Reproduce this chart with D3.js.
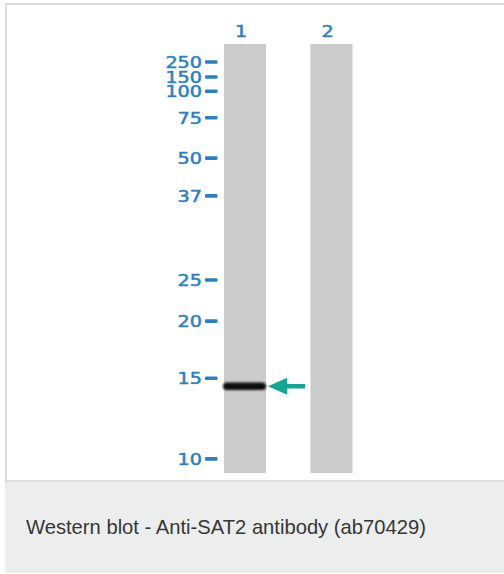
<!DOCTYPE html>
<html>
<head>
<meta charset="utf-8">
<script src="https://cdn.jsdelivr.net/npm/d3@7"></script>
<style>
  html, body { margin: 0; padding: 0; background: #fff; }
  svg { display: block; }
</style>
</head>
<body>
<div id="chart"></div>
<script>
// ---------- Data ----------
const lanes = ["1", "2"];
const markers = [250, 150, 100, 75, 50, 37, 25, 20, 15, 10];          // kDa
const markerRf = [0.042, 0.077, 0.110, 0.172, 0.266, 0.354, 0.550, 0.646, 0.779, 0.967]; // relative migration
const bandLanes = ["1"];
const bandKDa = [14.4];
const caption = "Western blot - Anti-SAT2 antibody (ab70429)";

// ---------- Setup ----------
const width = 504, height = 574;
const blue = "#2d80bc", teal = "#17a593";

const svg = d3.select("#chart").append("svg")
  .attr("width", width).attr("height", height);

const defs = svg.append("defs");
defs.append("filter").attr("id", "soft")
  .attr("x", "-20%").attr("y", "-100%").attr("width", "140%").attr("height", "300%")
  .append("feGaussianBlur").attr("stdDeviation", 0.8);

// panel + caption box
svg.append("rect").attr("x", 6).attr("y", 4).attr("width", width).attr("height", 477)
  .attr("fill", "#fff").attr("stroke", "#dcdcdc").attr("stroke-width", 2);
svg.append("rect").attr("x", 5).attr("y", 482).attr("width", width - 5).attr("height", 91)
  .attr("fill", "#eceeee");
svg.append("text")
  .attr("x", 26).attr("y", 534)
  .attr("font-family", "Liberation Sans, Arial, sans-serif")
  .attr("font-size", 20.2).attr("fill", "#363636")
  .text(caption);

// ---------- Scales ----------
const x = d3.scaleBand().domain(lanes).range([224, 352.5])
  .paddingInner(0.514).paddingOuter(0);
const y = d3.scaleLinear().domain([0, 1]).range([44, 473]);
const rf = d3.scaleLog().domain(markers).range(markerRf);

// ---------- Lanes ----------
svg.append("g").selectAll("rect")
  .data(lanes).join("rect")
  .attr("x", d => x(d)).attr("y", y(0))
  .attr("width", x.bandwidth()).attr("height", y(1) - y(0))
  .attr("fill", "#cbcbcb");

svg.append("g").selectAll("text")
  .data(lanes).join("text")
  .attr("transform", d => `translate(${x(d) + x.bandwidth() / 2 - 4},37) scale(1.2,1)`)
  .attr("text-anchor", "middle")
  .attr("font-family", "DejaVu Sans, sans-serif")
  .attr("font-size", 16).attr("fill", blue)
  .attr("stroke", blue).attr("stroke-width", 0.5)
  .text(d => d);

// ---------- Marker ladder ----------
const ladder = svg.append("g").selectAll("g")
  .data(markers).join("g")
  .attr("transform", d => `translate(0,${y(rf(d))})`);

ladder.append("text")
  .attr("transform", "translate(202,0) scale(1.2,1)")
  .attr("text-anchor", "end").attr("dy", "0.36em")
  .attr("font-family", "DejaVu Sans, sans-serif")
  .attr("font-size", 16).attr("fill", blue)
  .attr("stroke", blue).attr("stroke-width", 0.5)
  .text(d => d);

ladder.append("rect")
  .attr("x", 205).attr("y", -1.8).attr("width", 12.5).attr("height", 3.6)
  .attr("rx", 1).attr("fill", blue);

// ---------- Bands ----------
const bands = bandLanes.map((l, i) => ({ lane: l, kDa: bandKDa[i] }));

svg.append("g").selectAll("rect")
  .data(bands).join("rect")
  .attr("x", d => x(d.lane) - 1).attr("y", d => y(rf(d.kDa)) - 3.8)
  .attr("width", x.bandwidth() + 1).attr("height", 7.6)
  .attr("rx", 3.8)
  .attr("fill", "#0c0c0c").attr("filter", "url(#soft)");

// arrow pointing at band
svg.append("g").selectAll("path")
  .data(bands).join("path")
  .attr("transform", d => `translate(${x(d.lane) + x.bandwidth() + 2},${y(rf(d.kDa))})`)
  .attr("d", "M0,0 L19,-8.5 L19,-2.2 L37,-2.2 L37,2.2 L19,2.2 L19,8.5 Z")
  .attr("fill", teal);
</script>
</body>
</html>
